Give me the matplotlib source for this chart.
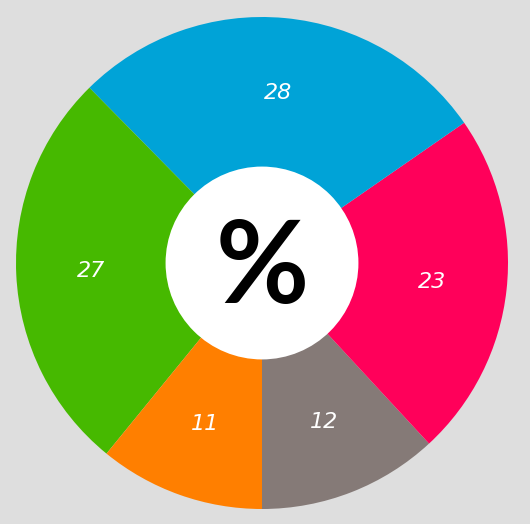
import matplotlib.pyplot as plt
from matplotlib.patches import Circle

# slices, counterclockwise starting at the bottom
values = [12, 23, 28, 27, 11]
colors = ["#857a77", "#ff005a", "#00a3d7", "#46b900", "#ff7f00"]
center_text = "%"

total = sum(values)

fig = plt.figure(figsize=(5.30, 5.24), dpi=100)
fig.patch.set_facecolor("#dedede")
ax = fig.add_axes([0, 0, 1, 1])
ax.set_facecolor("#dedede")

wedges, texts, autotexts = ax.pie(
    values, colors=colors, startangle=-90, counterclock=True,
    radius=1.0, pctdistance=0.695,
    autopct=lambda p: "%d" % round(p * total / 100.0),
    textprops=dict(color="white", fontsize=16, style="italic",
                   family=["Liberation Sans Narrow", "DejaVu Sans"]),
    wedgeprops=dict(linewidth=0),
)

ax.add_patch(Circle((0, 0), 0.392, facecolor="white", edgecolor="none", zorder=3))
ax.text(0, -0.03, center_text, ha="center", va="center", fontsize=82,
        fontweight="bold", color="black", family=["Lato", "DejaVu Sans"],
        zorder=4)

# place the pie like in the picture (246 px radius, centre at 262,263)
ax.set_aspect("auto")
ax.set_xlim(-262 / 246, (530 - 262) / 246)
ax.set_ylim(-261 / 246, 263 / 246)
ax.axis("off")

fig.savefig("out.png", dpi=100, facecolor=fig.get_facecolor())
